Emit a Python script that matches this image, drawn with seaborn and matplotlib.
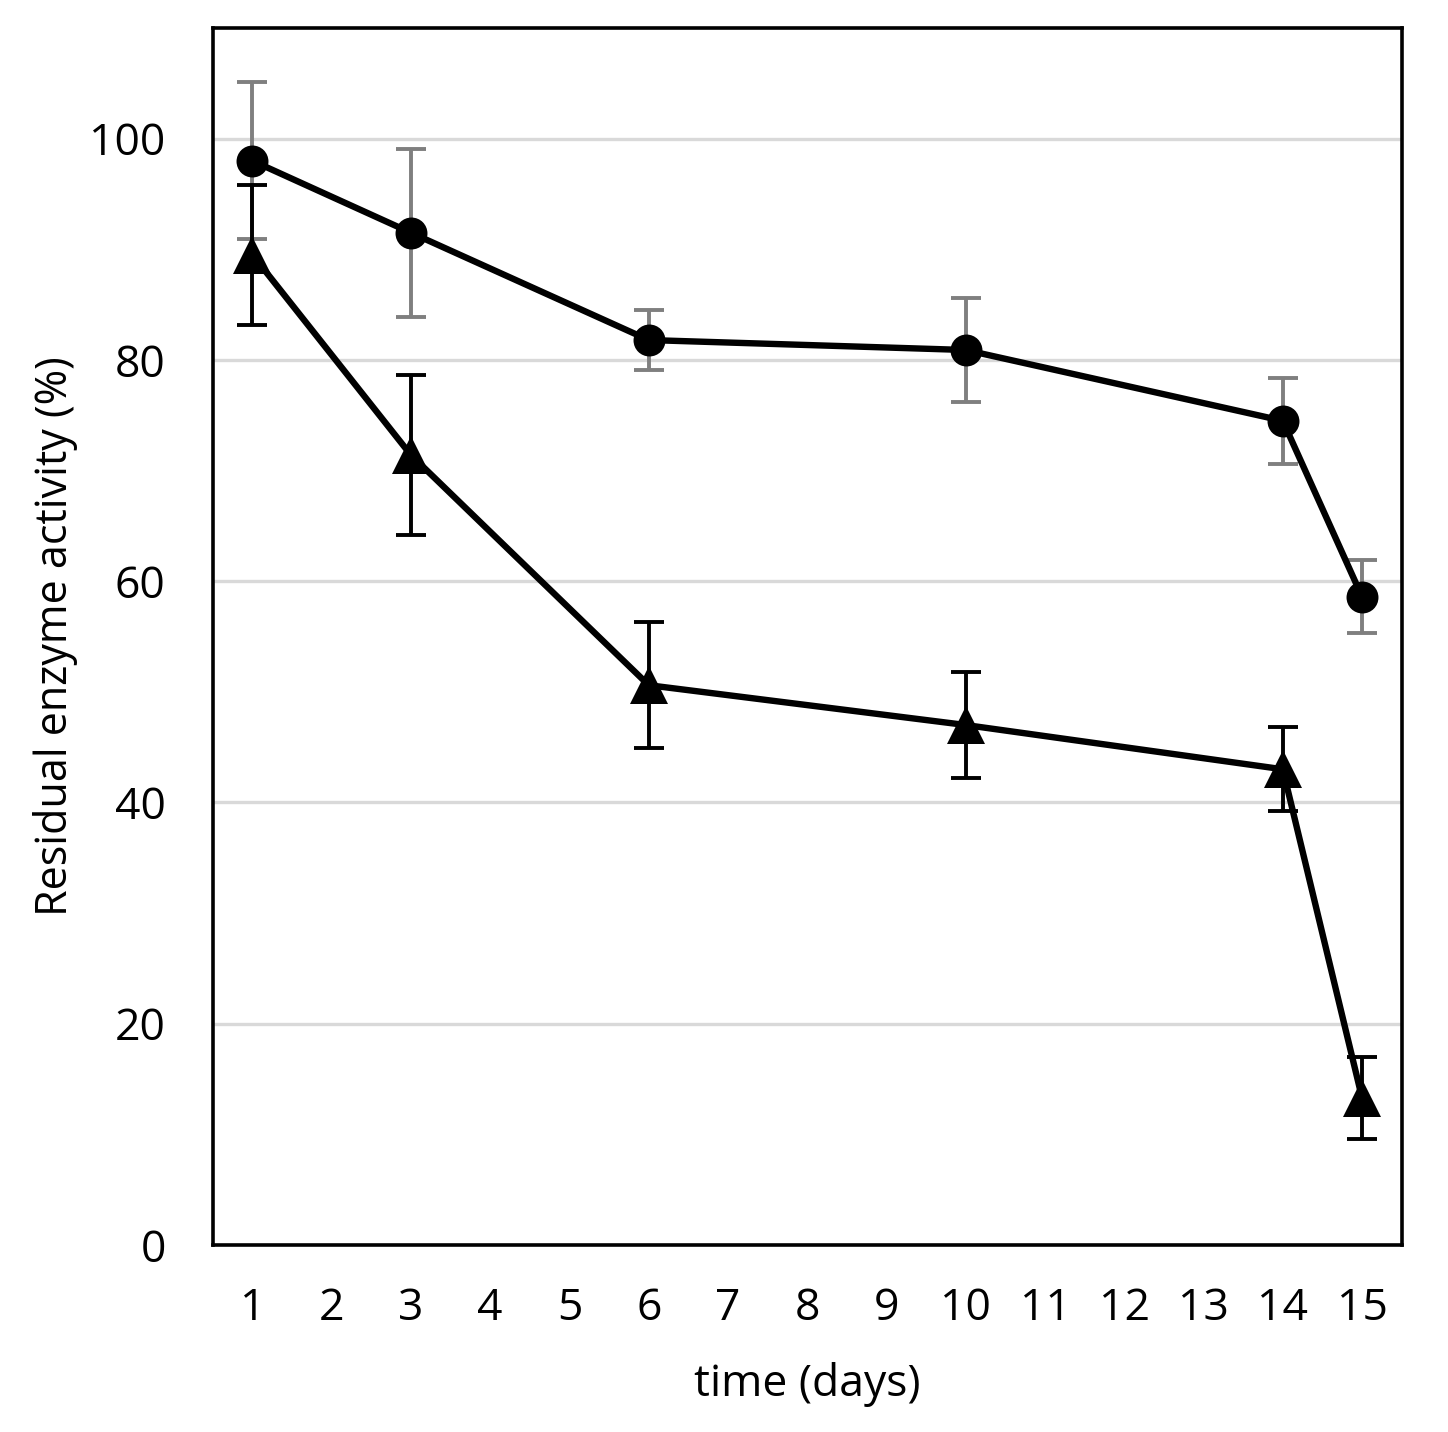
import matplotlib
matplotlib.use("Agg")
import matplotlib.pyplot as plt
import pandas as pd
import seaborn as sns

days = [1, 3, 6, 10, 14, 15]
circle_mean = [98.0, 91.5, 81.8, 80.9, 74.5, 58.6]
circle_err = [7.1, 7.6, 2.7, 4.7, 3.9, 3.3]
triangle_mean = [89.5, 71.4, 50.6, 47.0, 43.0, 13.3]
triangle_err = [6.3, 7.2, 5.7, 4.8, 3.8, 3.7]
x_ticks = list(range(1, 16))
y_ticks = [0, 20, 40, 60, 80, 100]

df = pd.DataFrame({
    "day": days + days,
    "activity": circle_mean + triangle_mean,
    "series": ["circle"] * len(days) + ["triangle"] * len(days),
})

sns.set_theme(style="white")
plt.rcParams["font.family"] = ["Open Sans", "DejaVu Sans"]

fig = plt.figure(figsize=(14.48, 14.32), dpi=100)
ax = fig.add_axes([0.147, 0.1306, 0.821, 0.8498])

# error bars underneath the markers
ax.errorbar(days, circle_mean, yerr=circle_err, fmt="none", ecolor="#7f7f7f",
            elinewidth=2.8, capsize=11, capthick=2.8, zorder=2)
ax.errorbar(days, triangle_mean, yerr=triangle_err, fmt="none", ecolor="black",
            elinewidth=2.8, capsize=11, capthick=2.8, zorder=2)

sns.lineplot(data=df, x="day", y="activity", style="series",
             markers={"circle": "o", "triangle": "^"},
             dashes=False, color="black", linewidth=4.6, markersize=23,
             markeredgewidth=0, legend=False, ax=ax, zorder=3)
for line in ax.lines:
    if line.get_marker() == "^":
        line.set_markersize(27)

ax.set_xlim(0.5, 15.5)
ax.set_ylim(0, 110)
ax.set_xticks(x_ticks)
ax.set_yticks(y_ticks)
ax.yaxis.grid(True, color="#d9d9d9", linewidth=2.4)
ax.xaxis.grid(False)
ax.set_axisbelow(True)
for s in ax.spines.values():
    s.set_color("black")
    s.set_linewidth(2.6)
ax.tick_params(axis="both", length=0, labelsize=32, colors="black")
ax.tick_params(axis="x", pad=30)
ax.tick_params(axis="y", pad=34)
ax.set_xlabel("time (days)", fontsize=32, labelpad=22, color="black")
ax.set_ylabel("Residual enzyme activity (%)", fontsize=31, labelpad=8, color="black")

plt.savefig("out.png", dpi=100)
plt.close()
